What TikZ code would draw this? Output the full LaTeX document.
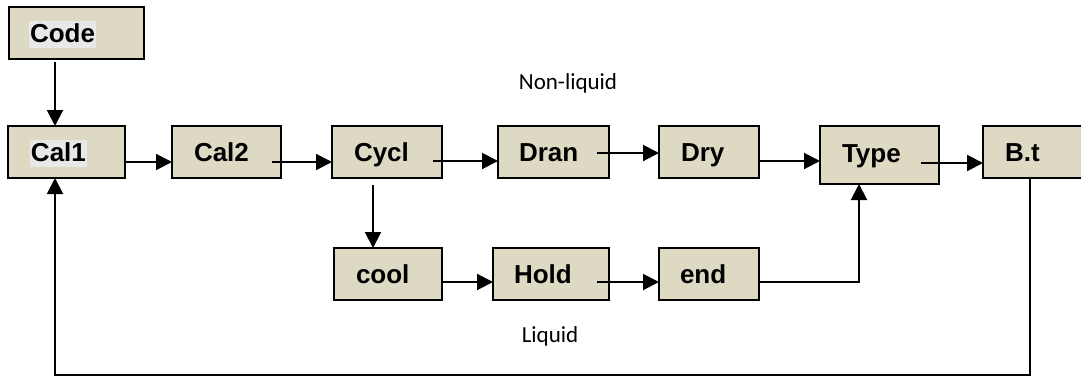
\documentclass[tikz,border=0pt]{standalone}
\usepackage{fontspec}
\setmainfont{Liberation Sans}
\newfontfamily\lblfont{Carlito}
\usetikzlibrary{arrows.meta,calc}
\definecolor{boxc}{RGB}{221,217,195}
\definecolor{hlc}{RGB}{232,232,232}
\newcommand{\hlbox}[1]{{\setlength{\fboxsep}{1pt}\colorbox{hlc}{\rule[-4pt]{0pt}{25pt}#1}}}
\begin{document}
\begin{tikzpicture}[x=1pt,y=-1pt,
  bx/.style={draw=black, line width=1.8pt, fill=boxc, anchor=north west, outer sep=0pt,
    align=left, minimum height=52pt, inner ysep=0pt, text height=19pt, text depth=0pt,
    font=\fontsize{26}{30}\selectfont\bfseries},
  arr/.style={line width=2pt, draw=black, -{Triangle[length=16pt,width=16pt]}},
  lbl/.style={anchor=base, font=\lblfont\fontsize{23}{27}\selectfont}
]
\useasboundingbox (0,0) rectangle (1081,376);
% boxes
\node[bx, text width=95pt, inner xsep=20pt] (code) at (9,7) {\hlbox{Code}};
\node[bx, text width=73pt, inner xsep=22pt] (cal1) at (8,126) {\hlbox{Cal1}};
\node[bx, text width=65pt, inner xsep=22pt] (cal2) at (172,126) {Cal2};
\node[bx, text width=66pt, inner xsep=22pt] (cycl) at (332,126) {Cycl};
\node[bx, text width=69pt, inner xsep=21pt] (dran) at (498,126) {Dran};
\node[bx, text width=56pt, inner xsep=22pt] (dry) at (659,126) {Dry};
\node[bx, text width=75pt, inner xsep=22pt, minimum height=58pt, text depth=5pt] (type) at (820,126) {Type};
\node[bx, text width=58pt, inner xsep=22pt] (bt) at (983,126) {B.t};
\node[bx, text width=64pt, inner xsep=22pt] (cool) at (334,248) {cool};
\node[bx, text width=74pt, inner xsep=21pt] (hold) at (493,248) {Hold};
\node[bx, text width=58pt, inner xsep=21pt] (end) at (659,248) {end};
% labels
\node[lbl] (nonliq) at (568,89) {Non-liquid};
\node[lbl] (liq) at (550,342) {Liquid};
% connectors
\draw[arr] ([xshift=46pt,yshift=-3pt]code.south west) coordinate (a1) -- (a1 |- cal1.north);
\draw[arr] ([yshift=-10pt]cal1.east) coordinate (a2) -- (a2 -| cal2.west);
\draw[arr] ([xshift=-9pt,yshift=-10pt]cal2.east) coordinate (a3) -- (a3 -| cycl.west);
\draw[arr] ([xshift=-9pt,yshift=-9pt]cycl.east) coordinate (a4) -- (a4 -| dran.west);
\draw[arr] ([xshift=-12pt,yshift=-1pt]dran.east) coordinate (a5) -- (a5 -| dry.west);
\draw[arr] ([yshift=-9pt]dry.east) coordinate (a6) -- (a6 -| type.west);
\draw[arr] ([xshift=-18pt,yshift=-8pt]type.east) coordinate (a7) -- (a7 -| bt.west);
\draw[arr] ([xshift=41pt,yshift=-7pt]cycl.south west) coordinate (a8) -- (a8 |- cool.north);
\draw[arr] ([yshift=-8pt]cool.east) coordinate (a9) -- (a9 -| hold.west);
\draw[arr] ([xshift=-12pt,yshift=-8pt]hold.east) coordinate (a10) -- (a10 -| end.west);
\draw[arr] ([yshift=-8pt]end.east) -| ([xshift=39pt]type.south west);
\draw[arr] ([xshift=47pt]bt.south west) -- ++(0,197) -| ([xshift=47pt]cal1.south west);
\end{tikzpicture}
\end{document}
